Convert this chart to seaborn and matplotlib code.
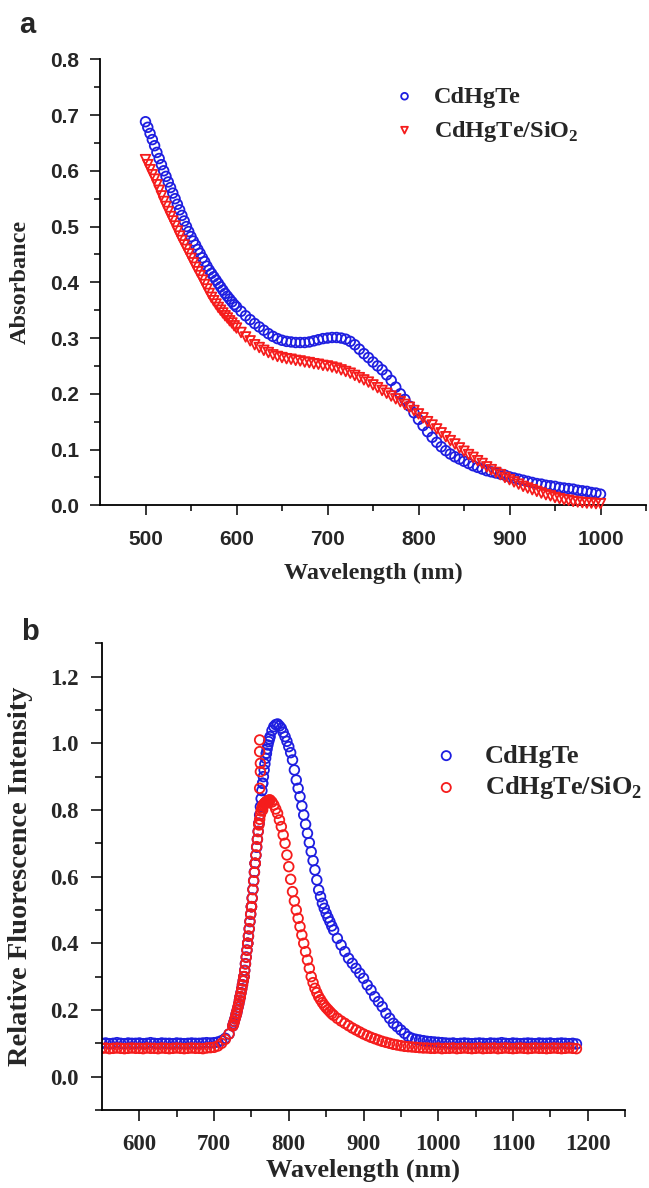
import numpy as np
import pandas as pd
import seaborn as sns
import matplotlib.pyplot as plt

sns.set_theme(style="ticks")
plt.rcParams['font.family'] = ['Liberation Serif', 'DejaVu Sans']
plt.rcParams['font.weight'] = 'bold'
plt.rcParams['axes.labelweight'] = 'bold'
plt.rcParams['mathtext.fontset'] = 'custom'
plt.rcParams['mathtext.rm'] = 'Liberation Serif:bold'
plt.rcParams['mathtext.bf'] = 'Liberation Serif:bold'
plt.rcParams['axes.linewidth'] = 1.3
plt.rcParams['axes.edgecolor'] = 'black'

BLUE = '#1e1ee0'
RED = '#f51c1c'
names = ['CdHgTe', r'CdHgTe/SiO$_\mathbf{2}$']

# ---- panel a : absorbance, read every 5 nm ----
wl_abs = np.arange(500, 1001, 5)
abs_cdhgte = [
    .688, .667, .645, .622, .600, .580, .560, .540, .520, .500,
    .482, .467, .452, .437, .422, .410, .398, .386, .375, .365,
    .356, .348, .340, .333, .326, .320, .314, .308, .303, .299,
    .296, .294, .293, .292, .292, .292, .293, .295, .297, .299,
    .300, .301, .301, .300, .298, .294, .288, .280, .272, .265,
    .257, .250, .243, .234, .224, .212, .200, .190, .178, .166,
    .154, .143, .132, .122, .113, .105, .098, .092, .087, .083,
    .079, .075, .071, .068, .065, .062, .060, .058, .056, .054,
    .051, .049, .047, .045, .043, .041, .039, .038, .036, .035,
    .034, .032, .031, .030, .029, .027, .026, .025, .023, .022,
    .020]
abs_sio2 = [
    .620, .602, .585, .565, .545, .527, .510, .492, .475, .459,
    .443, .427, .412, .396, .380, .367, .355, .345, .336, .327,
    .318, .310, .302, .295, .288, .283, .278, .274, .270, .267,
    .265, .263, .262, .260, .259, .257, .256, .254, .253, .251,
    .250, .248, .246, .243, .240, .237, .233, .229, .225, .221,
    .216, .211, .206, .201, .196, .191, .186, .181, .176, .170,
    .164, .157, .150, .144, .137, .130, .123, .116, .110, .103,
    .097, .091, .086, .080, .075, .069, .064, .059, .055, .050,
    .046, .042, .038, .034, .031, .028, .025, .022, .019, .017,
    .014, .012, .010, .009, .007, .006, .005, .004, .004, .003,
    .003]
# steep start, extra points in between
wl_abs_half = np.arange(502.5, 600, 5)
abs_cdhgte_half = [.678, .656, .633, .611, .590, .570, .550, .530, .510, .491,
                   .474, .459, .444, .429, .416, .404, .392, .380, .370, .360]
abs_sio2_half = [.611, .593, .575, .555, .536, .518, .501, .483, .467, .451,
                 .435, .419, .404, .388, .373, .361, .350, .340, .331, .322]

# ---- panel b : fluorescence, read every 5 nm ----
wl_pl = np.arange(550, 1186, 5)
pl_cdhgte = [
    .100, .101, .099, .100, .102, .100, .099, .101, .100, .100,
    .101, .099, .100, .102, .100, .099, .101, .100, .100, .099,
    .101, .100, .099, .100, .101, .100, .100, .101, .102, .101,
    .102, .104, .108, .115, .128, .152, .190, .240, .300, .400,
    .510, .640, .760, .880, .970, 1.020, 1.050, 1.058, 1.045, 1.020,
    .990, .950, .890, .840, .785, .730, .675, .620, .560, .520,
    .490, .465, .440, .415, .395, .375, .355, .340, .325, .310,
    .295, .275, .260, .240, .225, .210, .190, .175, .160, .150,
    .140, .130, .120, .115, .112, .110, .108, .106, .105, .104,
    .103, .102, .101, .100, .101, .099, .100, .101, .100, .099,
    .100, .101, .100, .099, .101, .100, .100, .102, .100, .099,
    .101, .100, .099, .100, .101, .100, .099, .101, .100, .100,
    .101, .099, .100, .101, .100, .099, .100, .098]
pl_sio2 = [
    .085, .086, .084, .085, .086, .085, .084, .085, .086, .085,
    .085, .084, .086, .085, .085, .084, .086, .085, .084, .085,
    .086, .085, .084, .085, .086, .085, .085, .084, .086, .087,
    .088, .092, .100, .112, .128, .152, .190, .240, .300, .400,
    .510, .640, .760, .800, .820, .830, .815, .790, .750, .700,
    .630, .555, .500, .450, .400, .350, .300, .265, .240, .222,
    .207, .195, .184, .175, .167, .160, .153, .146, .140, .134,
    .128, .123, .118, .114, .110, .106, .103, .100, .097, .095,
    .093, .091, .090, .089, .088, .087, .086, .086, .085, .085,
    .086, .084, .085, .085, .086, .084, .085, .086, .085, .084,
    .085, .086, .084, .085, .085, .086, .084, .085, .086, .085,
    .084, .085, .086, .085, .084, .085, .086, .085, .085, .084,
    .085, .086, .085, .084, .085, .086, .085, .084]
# rising edge, 1 nm
wl_pl_edge = np.arange(726, 775)
pl_cdhgte_edge = [
    .159, .166, .174, .182, .190, .199, .208, .218, .229, .240,
    .252, .264, .276, .288, .300, .319, .339, .359, .380, .400,
    .421, .443, .465, .487, .510, .536, .562, .588, .614, .640,
    .664, .688, .712, .736, .760, .785, .810, .834, .858, .880,
    .900, .920, .938, .955, .970, .983, .995, 1.005, 1.013]
pl_sio2_edge = [
    .157, .165, .173, .181, .190, .199, .209, .219, .229, .240,
    .251, .263, .275, .287, .300, .318, .338, .358, .379, .400,
    .422, .444, .466, .488, .510, .535, .561, .587, .613, .640,
    .665, .690, .712, .735, .755, .772, .786, .797, .806, .812,
    .816, .819, .821, .823, .825, .827, .828, .829, .830]
# falling edge, half steps
wl_pl_half = np.arange(777.5, 860, 5)
pl_cdhgte_half = [1.038, 1.056, 1.052, 1.033, 1.006, .972, .920, .865, .812,
                  .757, .702, .648, .590, .540, .505, .477, .452]
pl_sio2_half = [.824, .803, .770, .725, .665, .592, .527, .475, .425,
                .375, .325, .282, .252, .231, .214, .201, .189]
# isolated points above the SiO2 peak
wl_pl_spike = [761, 761, 762, 762, 761]
pl_sio2_spike = [1.01, .975, .94, .915, .865]

df_a = pd.DataFrame({
    'wl': np.concatenate([wl_abs, wl_abs_half, wl_abs, wl_abs_half]),
    'val': abs_cdhgte + abs_cdhgte_half + abs_sio2 + abs_sio2_half,
    'sample': [names[0]] * (len(wl_abs) + len(wl_abs_half))
              + [names[1]] * (len(wl_abs) + len(wl_abs_half)),
})
n_b = len(wl_pl) + len(wl_pl_edge) + len(wl_pl_half)
df_b = pd.DataFrame({
    'wl': np.concatenate([wl_pl, wl_pl_edge, wl_pl_half,
                          wl_pl, wl_pl_edge, wl_pl_half, wl_pl_spike]),
    'val': pl_cdhgte + pl_cdhgte_edge + pl_cdhgte_half
           + pl_sio2 + pl_sio2_edge + pl_sio2_half + pl_sio2_spike,
    'sample': [names[0]] * n_b + [names[1]] * (n_b + len(wl_pl_spike)),
})

fig = plt.figure(figsize=(6.49, 11.88), dpi=100)
ax_a = fig.add_axes([100 / 649, 1 - 505.3 / 1188, 546 / 649, 446 / 1188])
ax_b = fig.add_axes([102 / 649, 1 - 1110 / 1188, 523 / 649, 466.7 / 1188])

# panel a
for name, col, mk in zip(names, [BLUE, RED], ['o', 'v']):
    sns.scatterplot(data=df_a[df_a['sample'] == name], x='wl', y='val',
                    marker=mk, s=48, color=col, facecolors='none',
                    edgecolor=col, linewidth=1.3, label=name, ax=ax_a,
                    clip_on=False, zorder=3)
ax_a.set_xlim(450, 1050)
ax_a.set_ylim(0, 0.8)
ax_a.set_xticks([500, 600, 700, 800, 900, 1000])
ax_a.set_xticks([550, 650, 750, 850, 950, 1050], minor=True)
ax_a.set_yticks([0.0, 0.1, 0.2, 0.3, 0.4, 0.5, 0.6, 0.7, 0.8])
ax_a.set_yticks([0.05, 0.15, 0.25, 0.35, 0.45, 0.55, 0.65, 0.75], minor=True)
ax_a.set_yticklabels(['0.0', '0.1', '0.2', '0.3', '0.4', '0.5', '0.6', '0.7', '0.8'])
ax_a.tick_params(which='major', length=7, width=1.3, labelsize=15,
                 labelfontfamily='Liberation Sans')
ax_a.tick_params(axis='x', which='major', pad=11)
ax_a.tick_params(axis='y', which='major', pad=8)
ax_a.tick_params(which='minor', length=4, width=1.3)
ax_a.set_xlabel('Wavelength (nm)', fontsize=17.5, fontweight='bold', labelpad=10)
ax_a.set_ylabel('Absorbance', fontsize=17.5, fontweight='bold', labelpad=14)
ax_a.legend(loc='upper left', bbox_to_anchor=(0.5355, 0.941), frameon=False,
            fontsize=17.5, handlelength=1, handletextpad=0.7, labelspacing=0.45,
            borderpad=0, borderaxespad=0, markerscale=0.7)
sns.despine(ax=ax_a)

# panel b
for name, col in zip(names, [BLUE, RED]):
    sns.scatterplot(data=df_b[df_b['sample'] == name], x='wl', y='val',
                    marker='o', s=48, color=col, facecolors='none',
                    edgecolor=col, linewidth=1.3, label=name, ax=ax_b)
ax_b.set_xlim(550, 1250)
ax_b.set_ylim(-0.1, 1.3)
ax_b.set_xticks([600, 700, 800, 900, 1000, 1100, 1200])
ax_b.set_xticks([650, 750, 850, 950, 1050, 1150, 1250], minor=True)
ax_b.set_yticks([0.0, 0.2, 0.4, 0.6, 0.8, 1.0, 1.2])
ax_b.set_yticks([-0.1, 0.1, 0.3, 0.5, 0.7, 0.9, 1.1, 1.3], minor=True)
ax_b.set_yticklabels(['0.0', '0.2', '0.4', '0.6', '0.8', '1.0', '1.2'])
ax_b.tick_params(which='major', length=8, width=1.3, labelsize=16.5)
ax_b.tick_params(axis='x', which='major', pad=9)
ax_b.tick_params(axis='y', which='major', pad=9)
ax_b.tick_params(which='minor', length=5, width=1.3)
ax_b.set_xlabel('Wavelength (nm)', fontsize=19, fontweight='bold', labelpad=3)
ax_b.set_ylabel('Relative Fluorescence Intensity', fontsize=20.5,
                fontweight='bold', labelpad=12)
ax_b.legend(loc='upper left', bbox_to_anchor=(0.633, 0.784), frameon=False,
            fontsize=19, handlelength=1, handletextpad=0.95, labelspacing=0.26,
            borderpad=0, borderaxespad=0, markerscale=0.95)
sns.despine(ax=ax_b)

fig.text(19 / 649, 1 - 33 / 1188, 'a', fontsize=21, fontweight='bold',
         family='Liberation Sans', va='baseline')
fig.text(21 / 649, 1 - 640 / 1188, 'b', fontsize=21, fontweight='bold',
         family='Liberation Sans', va='baseline')

fig.savefig('out.png', dpi=100)
